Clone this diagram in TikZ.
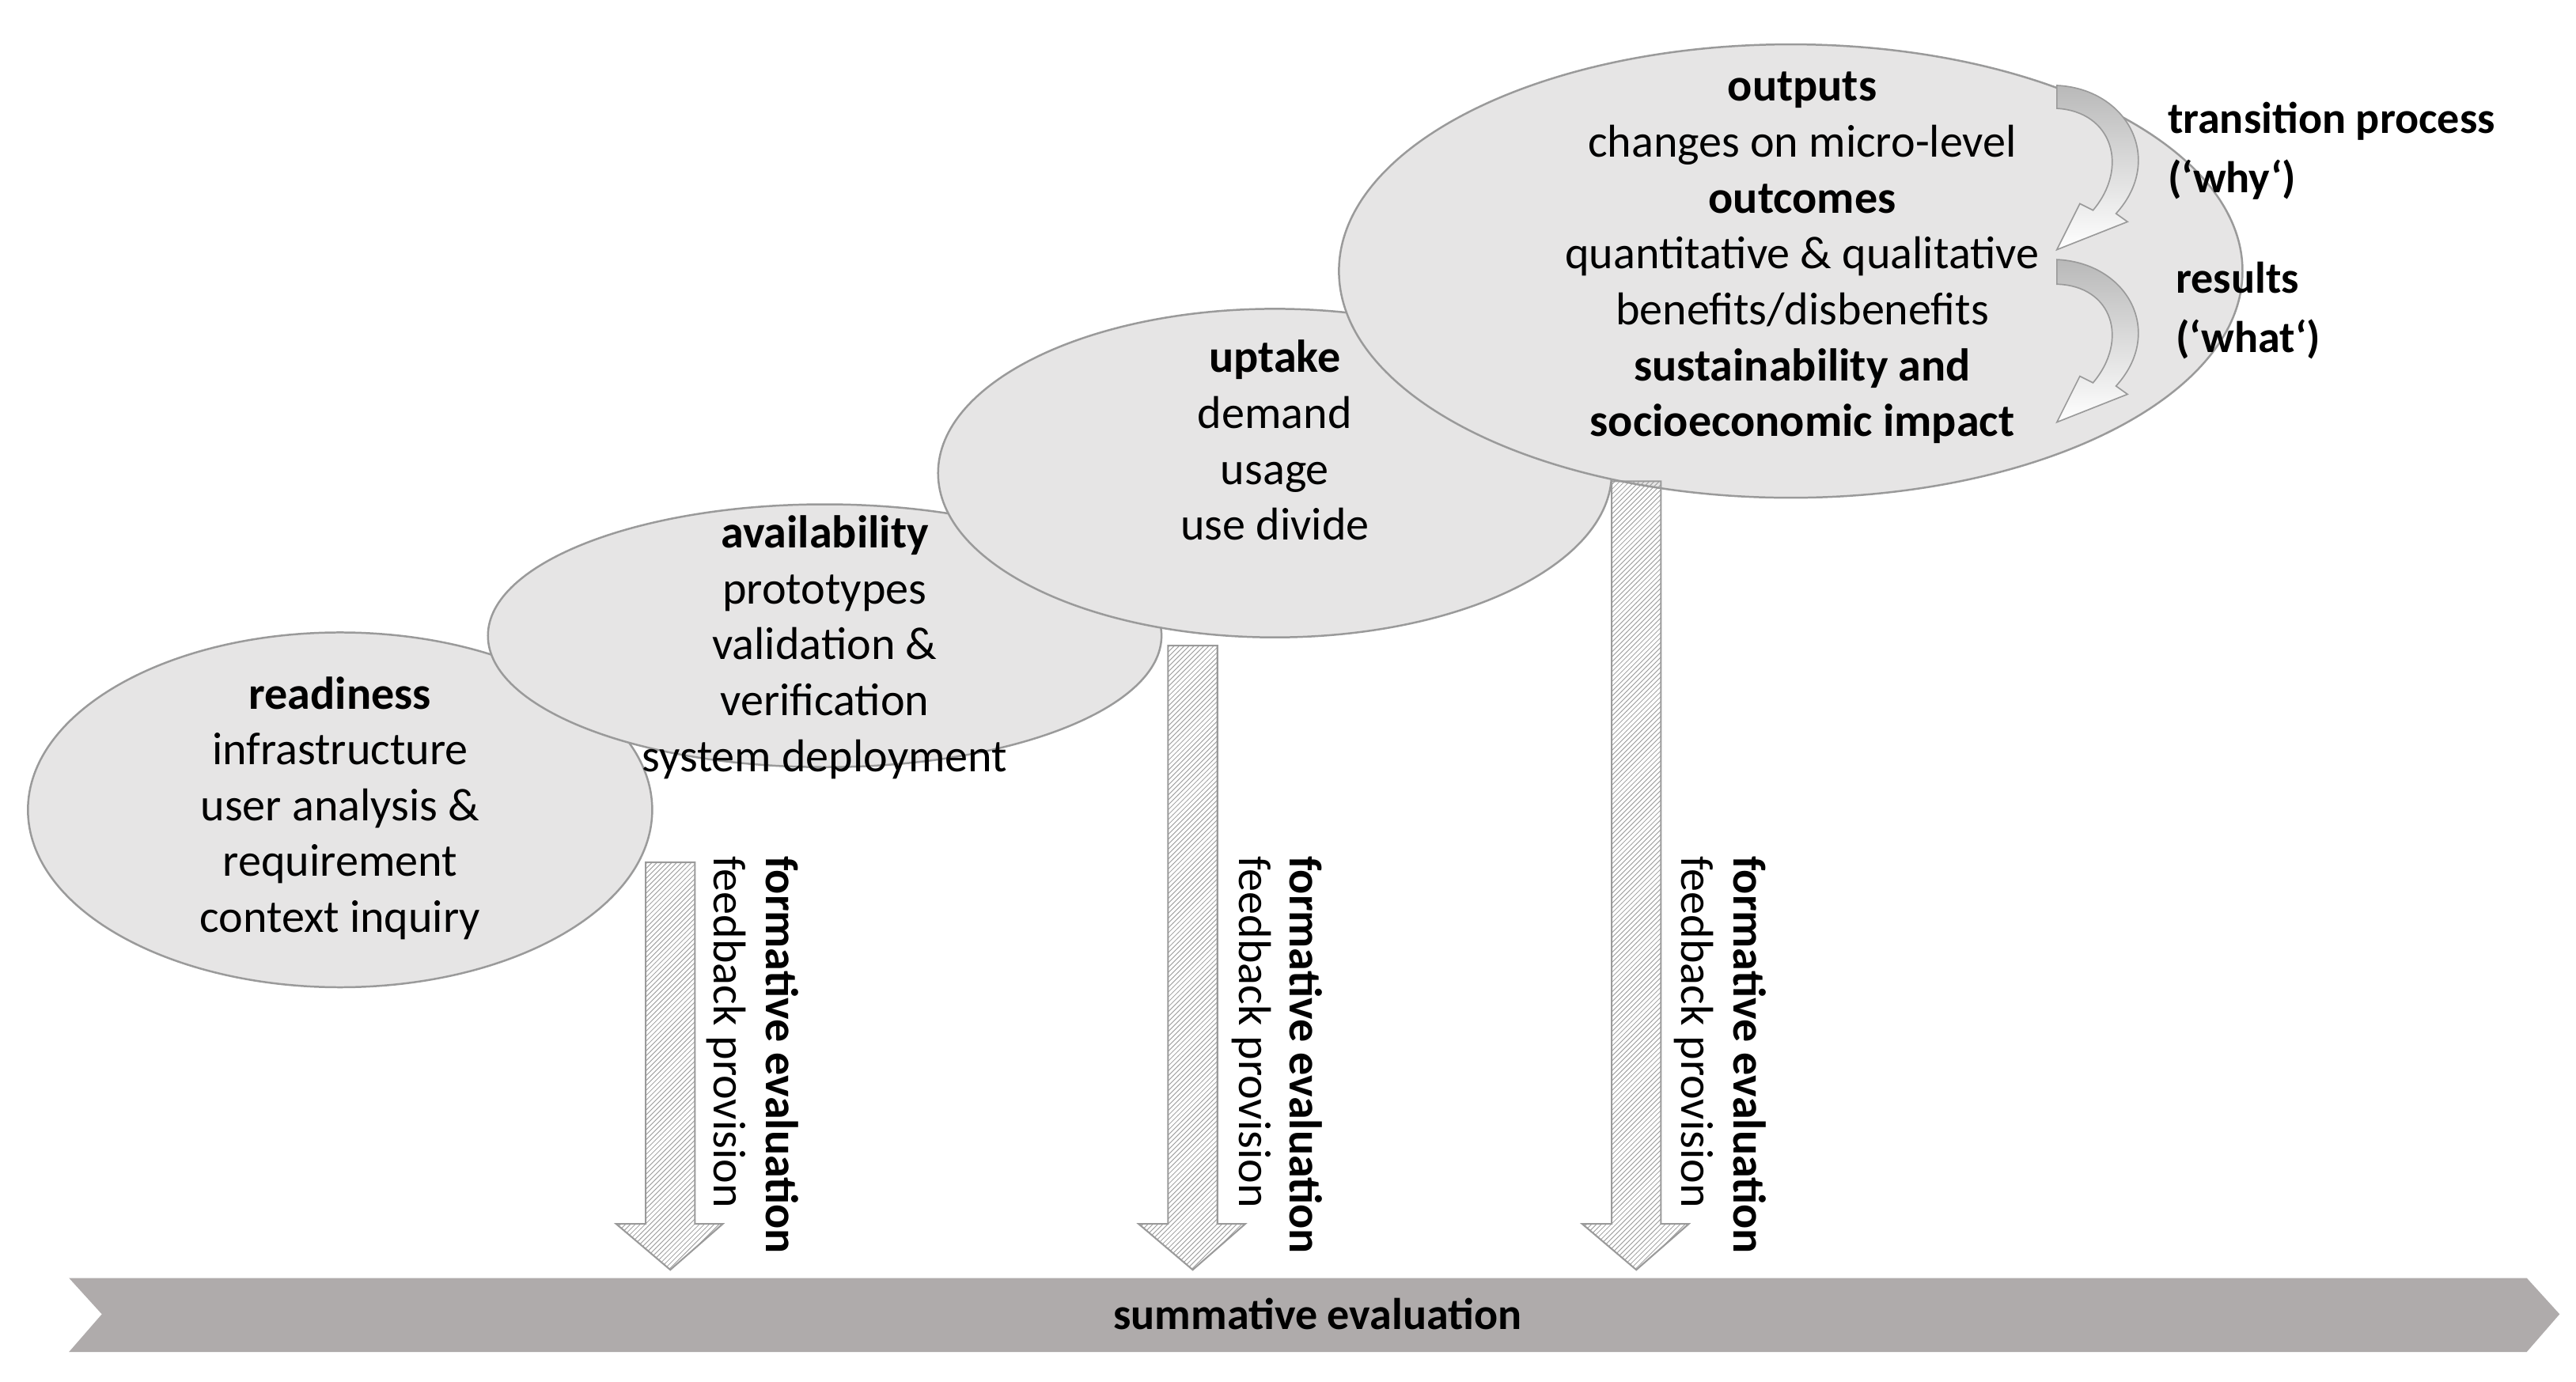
\documentclass[tikz,border=0pt]{standalone}
\usepackage{fontspec}
\setmainfont{Carlito}
\usetikzlibrary{patterns}
\definecolor{ellfill}{HTML}{E6E5E5}
\definecolor{ellline}{HTML}{9A9A9A}
\definecolor{barfill}{HTML}{AFABAB}
\tikzset{
  ell/.style={draw=ellline, line width=1.2pt, fill=ellfill},
  etext/.style={align=center, font=\fontsize{28}{34}\selectfont},
  hatch/.style={draw=ellline, line width=1pt, pattern=north east lines, pattern color=gray!80},
  vlab/.style={rotate=-90, anchor=west, font=\fontsize{28}{30}\selectfont, inner sep=0pt},
  side/.style={anchor=west, align=left, font=\fontsize{27}{36}\selectfont\bfseries},
  curv/.style={draw=ellline, line width=0.8pt, top color=gray!55, bottom color=white}
}
\begin{document}
\begin{tikzpicture}[x=1pt,y=-1pt]
\useasboundingbox (0,0) rectangle (1568,841);
% ellipses as shapes
\path[ell] (207,493) ellipse [x radius=190, y radius=108];
\path[ell] (502,387) ellipse [x radius=205, y radius=80];
\path[ell] (776,288) ellipse [x radius=205, y radius=100];
\path[ell] (1090,165) ellipse [x radius=275, y radius=138];
% texts
\node[etext] (ready) at (207,492) {\textbf{readiness}\\infrastructure\\user analysis \&\\requirement\\context inquiry};
\node[etext] (avail) at (502,394) {\textbf{availability}\\prototypes\\validation \&\\verification\\system deployment};
\node[etext] (uptake) at (776,268) {\textbf{uptake}\\demand\\usage\\use divide};
\node[etext] (outp) at (1097,157) {\textbf{outputs}\\changes on micro-level\\\textbf{outcomes}\\quantitative \& qualitative\\benefits/disbenefits\\\textbf{sustainability and}\\\textbf{socioeconomic impact}};
% curved arrows
\path[curv] (1252,52) .. controls (1295,54) and (1318,97) .. (1288,130) -- (1295,135) -- (1252,152) -- (1266,124) -- (1274,128) .. controls (1296,102) and (1286,68) .. (1252,66) -- cycle;
\path[curv] (1252,158) .. controls (1295,160) and (1318,202) .. (1288,235) -- (1295,240) -- (1252,257) -- (1266,229) -- (1274,233) .. controls (1296,207) and (1286,174) .. (1252,173) -- cycle;
\node[side] (trans) at (1316,92) {transition process\\(‘why‘)};
\node[side] (res) at (1321,189) {results\\(‘what‘)};
% hatched arrows
\path[hatch] (393,525) -- (423,525) -- (423,745) -- (440,745) -- (408,773) -- (375,745) -- (393,745) -- cycle;
\path[hatch] (711,393) -- (741,393) -- (741,745) -- (758,745) -- (726,773) -- (693,745) -- (711,745) -- cycle;
\path[hatch] (981,293) -- (1011,293) -- (1011,745) -- (1028,745) -- (996,773) -- (963,745) -- (981,745) -- cycle;
\node[vlab] (fe1) at (476,521) {\textbf{formative evaluation}};
\node[vlab] (fp1) at (442,521) {feedback provision};
\node[vlab] (fe2) at (795,521) {\textbf{formative evaluation}};
\node[vlab] (fp2) at (762,521) {feedback provision};
\node[vlab] (fe3) at (1065,521) {\textbf{formative evaluation}};
\node[vlab] (fp3) at (1031,521) {feedback provision};
% summative bar
\path[fill=barfill] (42,778) -- (1538,778) -- (1558,800) -- (1538,823) -- (42,823) -- (62,800) -- cycle;
\node[font=\fontsize{27}{30}\selectfont\bfseries] (summ) at (802,800) {summative evaluation};
\end{tikzpicture}
\end{document}
